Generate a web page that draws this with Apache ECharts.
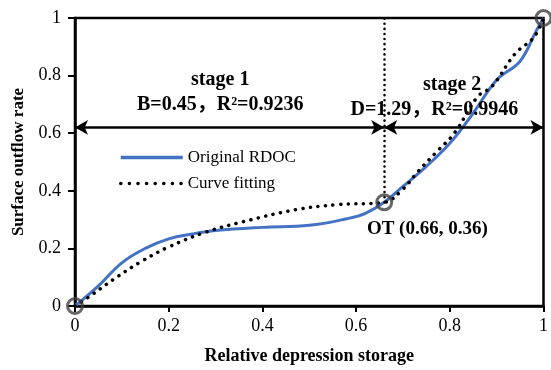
<!DOCTYPE html>
<html><head><meta charset="utf-8">
<script src="https://cdn.jsdelivr.net/npm/echarts@6/dist/echarts.min.js"></script>
<style>html,body{margin:0;padding:0;background:#fff}#c{width:551px;height:370px}</style>
</head><body><div id="c"></div>
<script>
// Original RDOC
var origX = [0, 0.05, 0.1, 0.15, 0.2, 0.25, 0.3, 0.4, 0.5, 0.58, 0.62, 0.66, 0.7, 0.75, 0.8, 0.85, 0.9, 0.95, 0.985, 1];
var origY = [0, 0.07, 0.15, 0.2, 0.233, 0.25, 0.262, 0.273, 0.28, 0.303, 0.322, 0.36, 0.415, 0.485, 0.565, 0.67, 0.785, 0.85, 0.957, 1];
// Curve fitting
var fitX = [0, 0.03, 0.08, 0.14, 0.2, 0.28, 0.36, 0.47, 0.56, 0.66, 0.7, 0.73, 0.77, 0.81, 0.86, 0.89, 0.94, 0.98, 1];
var fitY = [0, 0.032, 0.09, 0.153, 0.205, 0.257, 0.293, 0.334, 0.352, 0.36, 0.406, 0.463, 0.532, 0.601, 0.728, 0.762, 0.877, 0.934, 1];
// marked points
var markX = [0, 0.66, 1];
var markY = [0, 0.36, 1];
var xTicks = [0, 0.2, 0.4, 0.6, 0.8, 1];
var yTicks = [0, 0.2, 0.4, 0.6, 0.8, 1];
var arrowY = 0.62;

function zip(a, b) { return a.map(function (v, i) { return [v, b[i]]; }); }
var F = "'Liberation Serif', 'Times New Roman', serif";
var FC = "'Liberation Serif', 'Noto Sans CJK JP', serif";
var chart = echarts.init(document.getElementById('c'));
var bold = { fontFamily: FC, fontWeight: 'bold', fontSize: 20, color: '#000' };
chart.setOption({
  animation: false,
  textStyle: { fontFamily: F },
  grid: { left: 75, right: 4, top: 18, bottom: 62, show: true, borderColor: '#000', borderWidth: 2.5, backgroundColor: 'transparent' },
  legend: {
    data: [
      { name: 'Original RDOC', lineStyle: { width: 3.5, color: '#4472C4' } },
      { name: 'Curve fitting', lineStyle: { width: 3.5, color: '#000', type: [0.1, 8.5], cap: 'round' } }
    ],
    orient: 'vertical', left: 114, top: 144,
    itemWidth: 62, itemHeight: 14, itemGap: 9,
    itemStyle: { opacity: 0 },
    textStyle: { fontFamily: F, fontSize: 17, color: '#000' }
  },
  xAxis: {
    type: 'value', min: xTicks[0], max: xTicks[xTicks.length - 1], interval: 0.2,
    name: 'Relative depression storage', nameLocation: 'middle', nameGap: 41,
    nameTextStyle: { fontFamily: F, fontWeight: 'bold', fontSize: 18, color: '#000' },
    axisLine: { lineStyle: { color: '#000', width: 2.5 } },
    axisTick: { show: true, inside: false, length: 6, lineStyle: { color: '#000', width: 2 } },
    axisLabel: { fontFamily: F, fontSize: 18, color: '#000', margin: 11 },
    splitLine: { show: false }
  },
  yAxis: {
    type: 'value', min: yTicks[0], max: yTicks[yTicks.length - 1], interval: 0.2,
    name: 'Surface outflow rate', nameLocation: 'middle', nameGap: 44,
    nameTextStyle: { fontFamily: F, fontWeight: 'bold', fontSize: 17, color: '#000' },
    axisLine: { lineStyle: { color: '#000', width: 2.5 } },
    axisTick: { show: true, inside: false, length: 7, lineStyle: { color: '#000', width: 2 } },
    axisLabel: { fontFamily: F, fontSize: 18, color: '#000', margin: 14 },
    splitLine: { show: false }
  },
  series: [
    {
      name: 'Original RDOC', type: 'line', smooth: 0.4, symbol: 'none',
      data: zip(origX, origY),
      lineStyle: { color: '#4472C4', width: 3 }, itemStyle: { color: '#4472C4' },
      z: 3
    },
    {
      name: 'Curve fitting', type: 'line', smooth: 0.4, symbol: 'none',
      data: zip(fitX, fitY),
      lineStyle: { color: '#000', width: 3.5, type: [0.1, 7.5], cap: 'round' }, itemStyle: { color: '#000' },
      z: 4
    },
    {
      name: 'marks', type: 'scatter', symbol: 'circle', symbolSize: 15,
      data: zip(markX, markY),
      itemStyle: { color: 'rgba(0,0,0,0)', borderColor: '#404040', borderWidth: 3 },
      z: 6,
      markLine: {
        silent: true, symbol: ['arrow', 'arrow'], symbolSize: [11, 13],
        label: { show: false },
        lineStyle: { color: '#000', width: 2.5, type: 'solid' },
        data: [
          [{ coord: [markX[0], arrowY] }, { coord: [markX[1], arrowY] }],
          [{ coord: [markX[1], arrowY] }, { coord: [markX[2], arrowY] }],
          [{ coord: [markX[1], markY[1]], symbol: 'none', lineStyle: { type: [0.1, 5], width: 2.5, cap: 'round' } },
           { coord: [markX[1], markY[2]], symbol: 'none' }]
        ]
      },
      markPoint: {
        symbol: 'circle', symbolSize: 0, silent: true,
        label: { show: true, position: 'inside', ...bold },
        data: [
          { coord: [0.31, 0.785], value: 'stage 1', label: { formatter: 'stage 1' } },
          { coord: [0.31, 0.70], value: 'b', label: { formatter: 'B=0.45，R²=0.9236' } },
          { coord: [0.805, 0.768], value: 'stage 2', label: { formatter: 'stage 2' } },
          { coord: [0.767, 0.682], value: 'd', label: { formatter: 'D=1.29，R²=0.9946' } },
          { coord: [0.752, 0.268], value: 'ot', label: { formatter: 'OT (0.66, 0.36)', fontSize: 19 } }
        ]
      }
    }
  ]
});
</script></body></html>
